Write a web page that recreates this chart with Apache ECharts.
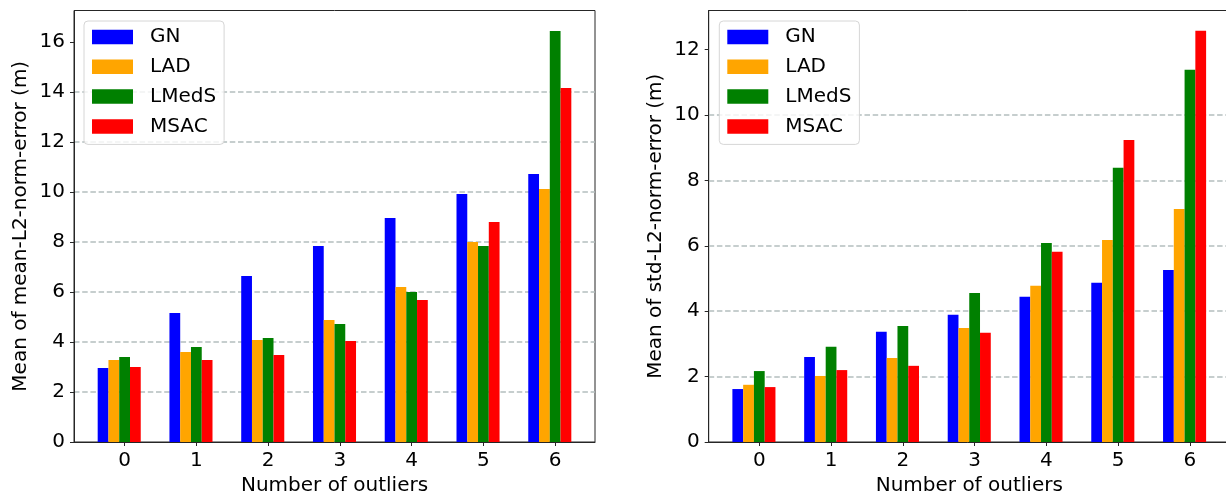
<!DOCTYPE html>
<html>
<head>
<meta charset="utf-8">
<script src="https://cdn.jsdelivr.net/npm/echarts@6/dist/echarts.min.js"></script>
<style>
html,body{margin:0;padding:0;background:#fff;}
#main{width:1226px;height:497px;}
</style>
</head>
<body>
<div id="main"></div>
<script>
// ---- data ----
const categories = [0, 1, 2, 3, 4, 5, 6];
const seriesNames = ['GN', 'LAD', 'LMedS', 'MSAC'];
const seriesColors = ['#0000ff', '#ffa500', '#008000', '#ff0000'];

const meanGN    = [2.96, 5.16, 6.64, 7.84, 8.96, 9.92, 10.72];
const meanLAD   = [3.28, 3.60, 4.08, 4.88, 6.20, 8.00, 10.12];
const meanLMedS = [3.40, 3.80, 4.16, 4.72, 6.00, 7.84, 16.44];
const meanMSAC  = [3.00, 3.28, 3.48, 4.04, 5.68, 8.80, 14.16];

const stdGN    = [1.62, 2.60, 3.37, 3.89, 4.44, 4.87, 5.26];
const stdLAD   = [1.75, 2.02, 2.57, 3.49, 4.78, 6.18, 7.13];
const stdLMedS = [2.17, 2.91, 3.55, 4.56, 6.09, 8.39, 11.39];
const stdMSAC  = [1.68, 2.20, 2.33, 3.34, 5.82, 9.24, 12.58];

const leftTicks  = [0, 2, 4, 6, 8, 10, 12, 14, 16];
const rightTicks = [0, 2, 4, 6, 8, 10, 12];

// ---- layout ----
const barOffsets = [-0.3, -0.15, 0, 0.15];
const xMin = -0.705, xMax = 6.555;
const font = 'DejaVu Sans';

const chart = echarts.init(document.getElementById('main'), null, {renderer: 'canvas'});

function makeGrid(left, right) {
  return {left: left, right: right, top: 10.5, bottom: 55, show: true,
          containLabel: false, outerBoundsMode: 'none',
          borderColor: '#262626', borderWidth: 1, backgroundColor: 'transparent'};
}
const grids = [makeGrid(74, 631), makeGrid(708.7, -3.8)];
const gridWidths = [1226 - 74 - 631, 1226 - 708.7 + 3.8];

function makeX(gi) {
  return {
    type: 'value', gridIndex: gi, min: xMin, max: xMax,
    name: 'Number of outliers', nameLocation: 'middle', nameGap: 34,
    nameTextStyle: {fontFamily: font, fontSize: 20, color: '#000'},
    axisLine: {show: true, onZero: false, lineStyle: {color: '#262626', width: 1}},
    axisTick: {show: true, length: 4, lineStyle: {color: '#262626', width: 1}, customValues: categories},
    axisLabel: {fontFamily: font, fontSize: 20, color: '#000', margin: 9, customValues: categories},
    splitLine: {show: false}
  };
}
function makeY(gi, max, ticks, name) {
  return {
    type: 'value', gridIndex: gi, min: 0, max: max, interval: 2,
    name: name, nameLocation: 'middle', nameGap: 43,
    nameTextStyle: {fontFamily: font, fontSize: 20, color: '#000'},
    axisLine: {show: true, onZero: false, lineStyle: {color: '#262626', width: 1}},
    axisTick: {show: true, length: 4, lineStyle: {color: '#262626', width: 1}, customValues: ticks},
    axisLabel: {fontFamily: font, fontSize: 20, color: '#000', margin: 9, customValues: ticks},
    splitLine: {show: true, showMinLine: false, showMaxLine: false,
                lineStyle: {color: '#b4bebe', width: 1.5, type: [5.5, 2.7]}}
  };
}

function buildSeries(gi, arrays) {
  const bw = 0.15 * gridWidths[gi] / (xMax - xMin);
  return arrays.map((arr, si) => ({
    type: 'bar', name: seriesNames[si], xAxisIndex: gi, yAxisIndex: gi,
    barWidth: bw, barGap: '-100%',
    itemStyle: {color: seriesColors[si]},
    data: categories.map((c, i) => [c + barOffsets[si], arr[i]])
  }));
}

function makeLegend(left) {
  return {
    left: left, top: 21, orient: 'vertical',
    data: seriesNames,
    icon: 'rect', itemWidth: 41, itemHeight: 14.5, itemGap: 9.8,
    padding: [6, 8, 8, 8],
    backgroundColor: 'rgba(255,255,255,0.8)',
    borderColor: '#d6d6d6', borderWidth: 1, borderRadius: 4,
    selectedMode: false,
    textStyle: {fontFamily: font, fontSize: 20, color: '#000', padding: [0, 0, 0, 12], lineHeight: 20}
  };
}

chart.setOption({
  animation: false,
  backgroundColor: '#fff',
  grid: grids,
  legend: [makeLegend(84), makeLegend(719.3)],
  xAxis: [makeX(0), makeX(1)],
  yAxis: [makeY(0, 17.26, leftTicks, 'Mean of mean-L2-norm-error (m)'),
          makeY(1, 13.2, rightTicks, 'Mean of std-L2-norm-error (m)')],
  series: buildSeries(0, [meanGN, meanLAD, meanLMedS, meanMSAC])
    .concat(buildSeries(1, [stdGN, stdLAD, stdLMedS, stdMSAC]))
});
</script>
</body>
</html>
